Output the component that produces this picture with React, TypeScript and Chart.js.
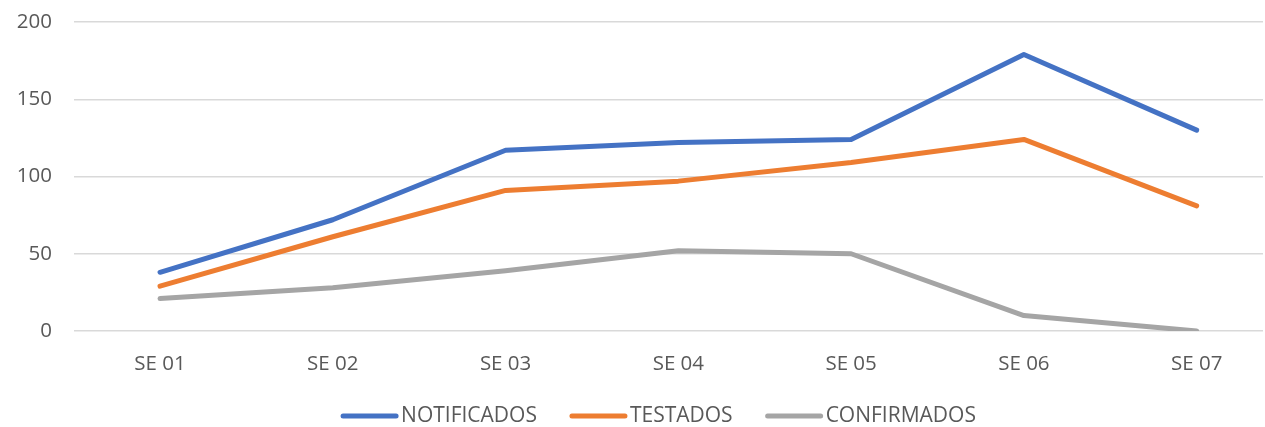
import React, { useEffect, useRef } from "react";
import { Chart, registerables } from "chart.js";

Chart.register(...registerables);

const categories = ["SE 01", "SE 02", "SE 03", "SE 04", "SE 05", "SE 06", "SE 07"];
const notificados = [38, 72, 117, 122, 124, 179, 130];
const testados = [29, 61, 91, 97, 109, 124, 81];
const confirmados = [21, 28, 39, 52, 50, 10, 0];
const yTicks = [0, 50, 100, 150, 200];
const seriesNames = ["NOTIFICADOS", "TESTADOS", "CONFIRMADOS"];
const seriesColors = ["#4472C4", "#ED7D31", "#A5A5A5"];

const FONT = "'Open Sans', sans-serif";
const TEXT = "#595959";

const bottomLegend = {
  id: "bottomLegend",
  afterDraw(chart: any) {
    const ctx = chart.ctx as CanvasRenderingContext2D;
    ctx.save();
    ctx.font = `21px ${FONT}`;
    ctx.textBaseline = "middle";
    ctx.textAlign = "left";
    const seg = 57;
    const gapText = 3;
    const gapItem = 33;
    const items = chart.data.datasets.map((d: any) => ({
      label: d.label as string,
      color: d.borderColor as string,
      w: ctx.measureText(d.label).width,
    }));
    const total =
      items.reduce((s: number, it: any) => s + seg + gapText + it.w, 0) + gapItem * (items.length - 1);
    const cx = (chart.chartArea.left + chart.chartArea.right) / 2 - 10;
    let x = cx - total / 2;
    const y = 415;
    for (const it of items) {
      ctx.strokeStyle = it.color;
      ctx.lineWidth = 5;
      ctx.lineCap = "round";
      ctx.beginPath();
      ctx.moveTo(x + 2, y + 1);
      ctx.lineTo(x + seg - 2, y + 1);
      ctx.stroke();
      ctx.fillStyle = TEXT;
      ctx.fillText(it.label, x + seg + gapText, y + 1);
      x += seg + gapText + it.w + gapItem;
    }
    ctx.restore();
  },
};

export default function App() {
  const ref = useRef<HTMLCanvasElement | null>(null);
  useEffect(() => {
    if (!ref.current) return;
    const toPts = (arr: number[]) => arr.map((v, i) => ({ x: i, y: v }));
    const values = [notificados, testados, confirmados];
    const chart = new Chart(ref.current, {
      type: "line",
      data: {
        datasets: values.map((vals, k) => ({
          label: seriesNames[k],
          data: toPts(vals),
          borderColor: seriesColors[k],
          backgroundColor: seriesColors[k],
          borderWidth: 5,
          pointRadius: 0,
          borderCapStyle: "round" as const,
          borderJoinStyle: "round" as const,
          tension: 0,
        })),
      },
      options: {
        animation: false,
        responsive: false,
        maintainAspectRatio: false,
        layout: { padding: { left: 16, right: 2, top: 22, bottom: 49 } },
        plugins: {
          legend: { display: false },
          tooltip: { enabled: false },
        },
        scales: {
          x: {
            type: "linear",
            min: -0.498,
            max: 6.384,
            afterBuildTicks: (scale: any) => {
              scale.ticks = categories.map((_, i) => ({ value: i }));
            },
            afterFit: (scale: any) => {
              scale.height = 47;
              scale.paddingLeft = 0;
              scale.paddingRight = 0;
            },
            ticks: {
              autoSkip: false,
              maxRotation: 0,
              padding: 21,
              color: TEXT,
              font: { family: FONT, size: 20.5 },
              callback: (v: any) => categories[v as number] ?? "",
            },
            grid: { display: false, drawTicks: false },
            border: { display: false },
          },
          y: {
            min: 0,
            max: 200,
            afterBuildTicks: (scale: any) => {
              scale.ticks = yTicks.map((v) => ({ value: v }));
            },
            afterFit: (scale: any) => {
              scale.width = 58;
              scale.paddingTop = 0;
              scale.paddingBottom = 0;
            },
            ticks: {
              padding: 22,
              color: TEXT,
              font: { family: FONT, size: 20.5 },
            },
            grid: { color: "#d9d9d9", lineWidth: 1.5, drawTicks: false },
            border: { display: false },
          },
        },
      },
      plugins: [bottomLegend],
    });
    return () => chart.destroy();
  }, []);
  return (
    <div style={{ position: "absolute", left: 0, top: 0, width: 1265, height: 427, background: "#fff" }}>
      <canvas ref={ref} width={1265} height={427} style={{ display: "block" }} />
    </div>
  );
}
